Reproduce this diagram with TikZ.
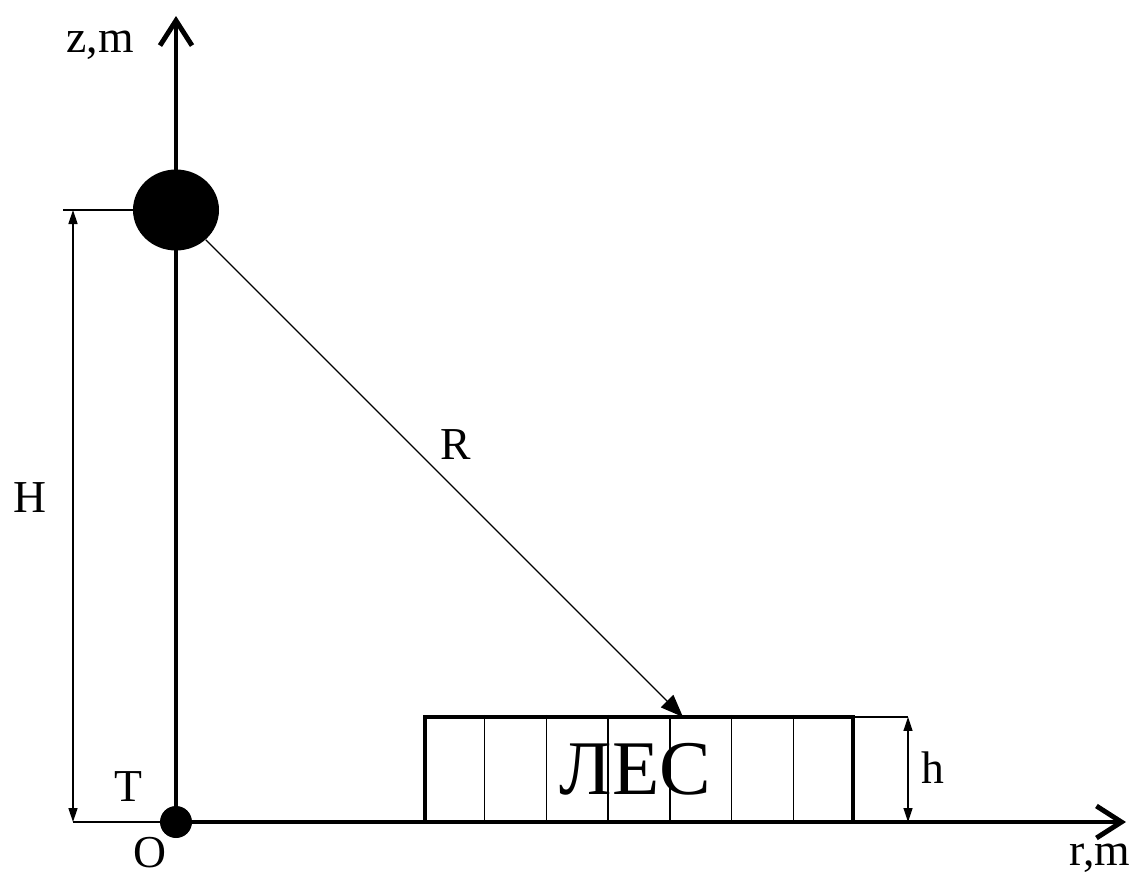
\documentclass[tikz,border=0pt]{standalone}
\usepackage{fontspec}
\setmainfont{Liberation Serif}
\usetikzlibrary{arrows.meta,shapes.geometric,calc}
\tikzset{
  axis/.style={line width=2.8pt, -{Straight Barb[length=5mm,width=6.4mm]}},
  dim/.style={line width=0.8pt, {Triangle[length=2.8mm,width=1.8mm]}-{Triangle[length=2.8mm,width=1.8mm]}},
  ext/.style={line width=0.8pt},
  ray/.style={line width=0.7pt, -{Triangle[length=4.5mm,width=3.5mm]}},
  lbl/.style={font=\fontsize{26}{30}\selectfont, inner sep=0pt},
  forest/.style={draw, line width=2.3pt, minimum width=8.56cm, minimum height=2.1cm, inner sep=0pt, font=\fontsize{44}{50}\selectfont},
  cell/.style={line width=0.8pt},
  ball/.style={ellipse, fill, minimum width=1.72cm, minimum height=1.62cm, inner sep=0pt},
  origin/.style={circle, fill, minimum size=0.64cm, inner sep=0pt},
}
\begin{document}
\begin{tikzpicture}[x=0.2mm,y=-0.2mm]
  \useasboundingbox (0,0) rectangle (1134,877);
  \coordinate (O) at (176,822);
  \coordinate (ztop) at (176,16);
  \coordinate (rend) at (1126,822);

  % forest
  \node[forest] (les) at (639,769.5) {\hspace*{-4pt}ЛЕС};
  \foreach \i in {1,...,6}
    \draw[cell] ($(les.north west)!\i/7!(les.north east)$) -- ($(les.south west)!\i/7!(les.south east)$);

  % axes
  \draw[axis] (O) -- (ztop);
  \draw[axis] (O) -- (rend);
  \node[ball] (src) at (176,210) {};
  \node[origin] (dot) at (O) {};

  % H dimension
  \coordinate (Hext) at (63,210);
  \coordinate (Htop) at (73,210);
  \coordinate (Hbot) at (73,822);
  \draw[ext] (Hext) -- (src);
  \draw[ext] (Hbot) -- (dot);
  \draw[dim] (Htop) -- (Hbot);

  % h dimension
  \coordinate (lesne) at ($(les.north east)+(-2,2)$);
  \coordinate (htop) at ($(lesne)+(55,0)$);
  \coordinate (hbot) at (htop |- O);
  \draw[ext] (lesne) -- (htop);
  \draw[dim] (htop) -- (hbot);

  % R
  \coordinate (hit) at (683,717);
  \draw[ray] (src) -- (hit);

  \node[lbl] (zlbl) at (100,45) {z,m};
  \node[lbl] (rlbl) at (1100,858) {r,m};
  \node[lbl] (Hlbl) at (30,498) {H};
  \node[lbl] (Tlbl) at (128,787) {T};
  \node[lbl] (Olbl) at (150,853) {O};
  \node[lbl] (Rlbl) at (456,445) {R};
  \node[lbl] (hlbl) at (933,768) {h};
\end{tikzpicture}
\end{document}
